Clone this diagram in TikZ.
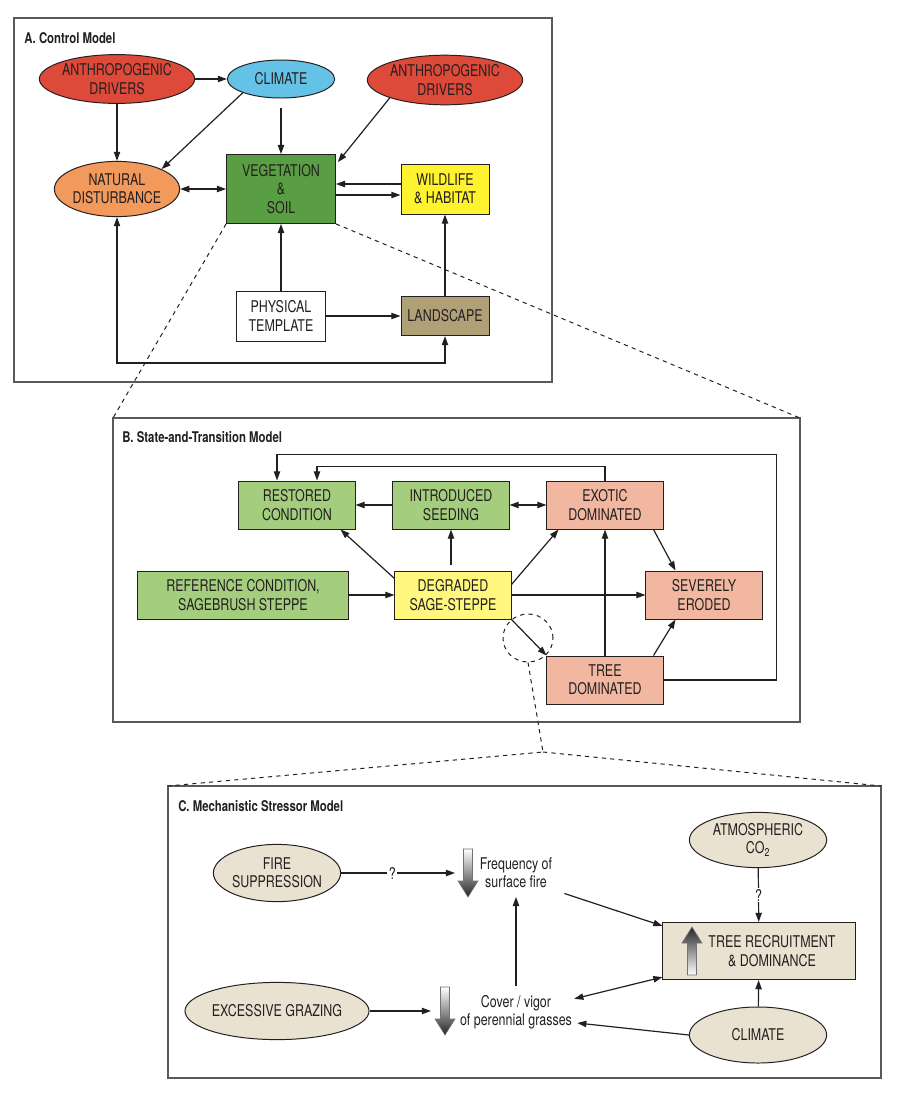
\documentclass[tikz,border=0pt]{standalone}
\usepackage{fontspec}
\setmainfont{TeX Gyre Heros}[FakeStretch=0.77]
\usepackage{tikz}
\usetikzlibrary{arrows.meta, positioning, calc, shapes.geometric}
\definecolor{ink}{HTML}{231F20}
\definecolor{frameg}{HTML}{58595B}
\definecolor{cRed}{HTML}{DE4A3A}
\definecolor{cSky}{HTML}{64C2E6}
\definecolor{cOrange}{HTML}{F2995C}
\definecolor{cVeg}{HTML}{5A9E44}
\definecolor{cYellow}{HTML}{FFF22E}
\definecolor{cKhaki}{HTML}{B0A077}
\definecolor{cGreen}{HTML}{A4CD7E}
\definecolor{cPale}{HTML}{FFF77E}
\definecolor{cSalmon}{HTML}{F2B7A1}
\definecolor{cBeige}{HTML}{E9E2D0}

\begin{document}
\begin{tikzpicture}[x=0.025cm, y=-0.025cm, font=\fontsize{11.5}{13}\selectfont,
  every node/.style={text=ink, align=center, inner sep=0pt},
  arr/.style={draw=ink, line width=0.85pt, -{Triangle[length=6.5pt,width=4.5pt]}},
  dbl/.style={draw=ink, line width=0.85pt, {Triangle[length=6.5pt,width=4.5pt]}-{Triangle[length=6.5pt,width=4.5pt]}},
  oval/.style={ellipse, draw=ink, line width=0.7pt},
  sbox/.style={rectangle, draw=ink, line width=0.7pt},
  panel/.style={draw=frameg, line width=0.8pt},
  zoomline/.style={draw=ink, dashed, line width=0.7pt},
  paneltitle/.style={anchor=west, font=\fontsize{10.5}{12}\selectfont\bfseries},
  qmark/.style={fill=white, inner sep=1pt},
  gradarrow/.style={draw=black!55, line width=0.4pt}]
  \fill[white] (0,0) rectangle (900,1100);
  \useasboundingbox (0,0) rectangle (900,1100);

  \draw[panel] (14,18) rectangle (552,382);
  \node[paneltitle] (titleA) at (24,38) {A. Control Model};
  \node[oval, fill=cRed, minimum width=3.78cm, minimum height=1.22cm] (anthroL) at (117,79) {ANTHROPOGENIC\\DRIVERS};
  \node[oval, fill=cSky, minimum width=2.68cm, minimum height=0.95cm] (climA) at (281,79) {CLIMATE};
  \node[oval, fill=cRed, minimum width=3.8cm, minimum height=1.24cm] (anthroR) at (445,80) {ANTHROPOGENIC\\DRIVERS};
  \node[oval, fill=cOrange, minimum width=3.02cm, minimum height=1.38cm] (natdist) at (117,189) {NATURAL\\DISTURBANCE};
  \node[sbox, fill=cVeg, minimum width=2.72cm, minimum height=1.72cm] (veg) at (281,189) {VEGETATION\\\&\\SOIL};
  \node[sbox, fill=cYellow, minimum width=2.2cm, minimum height=1.25cm] (wild) at (445,189) {WILDLIFE\\\& HABITAT};
  \node[sbox, fill=white, minimum width=2.22cm, minimum height=1.25cm] (phys) at (281,316) {PHYSICAL\\TEMPLATE};
  \node[sbox, fill=cKhaki, minimum width=2.2cm, minimum height=0.98cm] (land) at (445,316) {LANDSCAPE};
  \coordinate (loopA) at (281,363);

  \draw[arr] (anthroL) -- (climA);
  \draw[arr] (anthroL) -- (natdist);
  \draw[arr] (climA.south west) -- (natdist.north east);
  \draw[arr, shorten <=7pt] (climA) -- (veg);
  \draw[arr] (anthroR.south west) -- ($(veg.north east)+(2,8)$);
  \draw[dbl] (natdist) -- (veg);
  \draw[arr] ($(wild.west)+(0,-5)$) -- ($(veg.east)+(0,-5)$);
  \draw[arr] ($(veg.east)+(0,6)$) -- ($(wild.west)+(0,6)$);
  \draw[arr] (phys) -- (veg);
  \draw[arr] (phys) -- (land);
  \draw[arr] (land) -- (wild);
  \draw[dbl] (natdist.south) |- (loopA) -| (land.south);

  \coordinate (Bnw) at (113,418);
  \coordinate (Bne) at (800,418);
  \draw[panel] (Bnw) rectangle (800,722);
  \draw[zoomline] (veg.south west) -- (Bnw);
  \draw[zoomline] (veg.south east) -- (Bne);
  \node[paneltitle] (titleB) at (122,437) {B. State-and-Transition Model};
  \foreach \nm/\x/\y/\bw/\col/\txt in {restored/297/505/2.9/cGreen/{RESTORED\\CONDITION},
    intro/451/505/2.9/cGreen/{INTRODUCED\\SEEDING}, exotic/605/505/2.9/cSalmon/{EXOTIC\\DOMINATED},
    refc/243/595/5.28/cGreen/{REFERENCE CONDITION,\\SAGEBRUSH STEPPE}, degr/453/595/2.9/cPale/{DEGRADED\\SAGE-STEPPE},
    severe/704/595/2.9/cSalmon/{SEVERELY\\ERODED}, tree/605/680/2.9/cSalmon/{TREE\\DOMINATED}}{
    \node[sbox, fill=\col, minimum width=\bw cm, minimum height=1.2cm] (\nm) at (\x,\y) {\txt};
  }
  \draw[arr] (intro) -- (restored);
  \draw[dbl] (intro) -- (exotic);
  \draw[arr] ($(degr.north west)+(0,8)$) -- ($(restored.south east)+(-15,0)$);
  \draw[arr, shorten <=4pt] (degr.north -| intro) -- (intro);
  \draw[arr] ($(degr.north east)+(0,14)$) -- ($(exotic.south west)+(12,0)$);
  \draw[arr] (degr) -- (severe);
  \draw[arr] (refc) -- (degr);
  \draw[arr] (degr.south east) -- (tree.north west);
  \draw[arr] (tree) -- (exotic);
  \draw[arr] ($(exotic.south east)+(-10,0)$) -- ($(severe.north west)+(30,0)$);
  \draw[arr] ($(tree.north east)+(-10,0)$) -- ($(severe.south west)+(30,0)$);
  \draw[arr] (tree.east) -- ++(113,0) |- ($(restored.north)+(-20,-26)$) -- ($(restored.north)+(-20,0)$);
  \draw[arr] (exotic.north) |- ($(restored.north)+(20,-14)$) -- ($(restored.north)+(20,0)$);
  \node[ellipse, draw=ink, dashed, line width=0.7pt, minimum width=1.25cm, minimum height=1.2cm] (lens) at (528,638) {};

  \coordinate (fan) at (543,752);
  \coordinate (Cnw) at (168,786);
  \coordinate (Cne) at (881,786);
  \draw[panel] (Cnw) rectangle (881,1078);
  \draw[zoomline] (lens.south) -- (fan) -- (Cnw);
  \draw[zoomline] (fan) -- (Cne);
  \node[paneltitle] (titleC) at (178,806) {C. Mechanistic Stressor Model};
  \node[oval, fill=cBeige, minimum width=3.15cm, minimum height=1.43cm] (fire) at (277,873) {FIRE\\SUPPRESSION};
  \node[oval, fill=cBeige, minimum width=4.5cm, minimum height=1.43cm] (graze) at (277,1011) {EXCESSIVE GRAZING};
  \node[oval, fill=cBeige, minimum width=3.43cm, minimum height=1.38cm] (co2) at (758,840) {ATMOSPHERIC\\CO\textsubscript{2}};
  \node[oval, fill=cBeige, minimum width=3.43cm, minimum height=1.4cm] (climC) at (758,1035) {CLIMATE};
  \node[sbox, fill=cBeige, minimum width=4.8cm, minimum height=1.43cm] (trec) at (759,951) {};
  \node (trectxt) at (772,951) {TREE RECRUITMENT\\\& DOMINANCE};
  \node (freq) at (516,873) {Frequency of\\surface fire};
  \node (cover) at (516,1012) {Cover / vigor\\of perennial grasses};
  \coordinate (tup) at (692,951);
  \coordinate (fdown) at (468,873);
  \coordinate (cdown) at (445,1011);
  \shade[gradarrow, top color=black!85, bottom color=white] ($(tup)+(-4.5,24)$) -- ++(9,0) -- ++(0,-32)
    -- ++(5.5,0) -- ++(-10,-16) -- ++(-10,16) -- ++(5.5,0) -- cycle;
  \foreach \c in {fdown,cdown}{
    \shade[gradarrow, top color=white, bottom color=black!85] ($(\c)+(-4.5,-24)$) -- ++(9,0) -- ++(0,32)
      -- ++(5.5,0) -- ++(-10,16) -- ++(-10,-16) -- ++(5.5,0) -- cycle;
  }

  \draw[arr] (fire) -- node[qmark, pos=0.45] (qfire) {?} ($(fdown)+(-13,0)$);
  \draw[arr] (graze) -- ($(cdown)+(-14,0)$);
  \draw[arr, shorten <=6pt, shorten >=6pt] (cover) -- (freq);
  \draw[arr] ($(freq.south east)+(12,5)$) -- ($(trec.north west)+(0,4)$);
  \draw[dbl] ($(cover.north east)+(2,4)$) -- ($(trec.south west)+(0,-3)$);
  \draw[arr] (climC.west) -- ($(cover.east)+(5,11)$);
  \draw[arr] (climC) -- (trec);
  \draw[arr] (co2) -- node[qmark] (qco2) {?} (trec);
\end{tikzpicture}
\end{document}
